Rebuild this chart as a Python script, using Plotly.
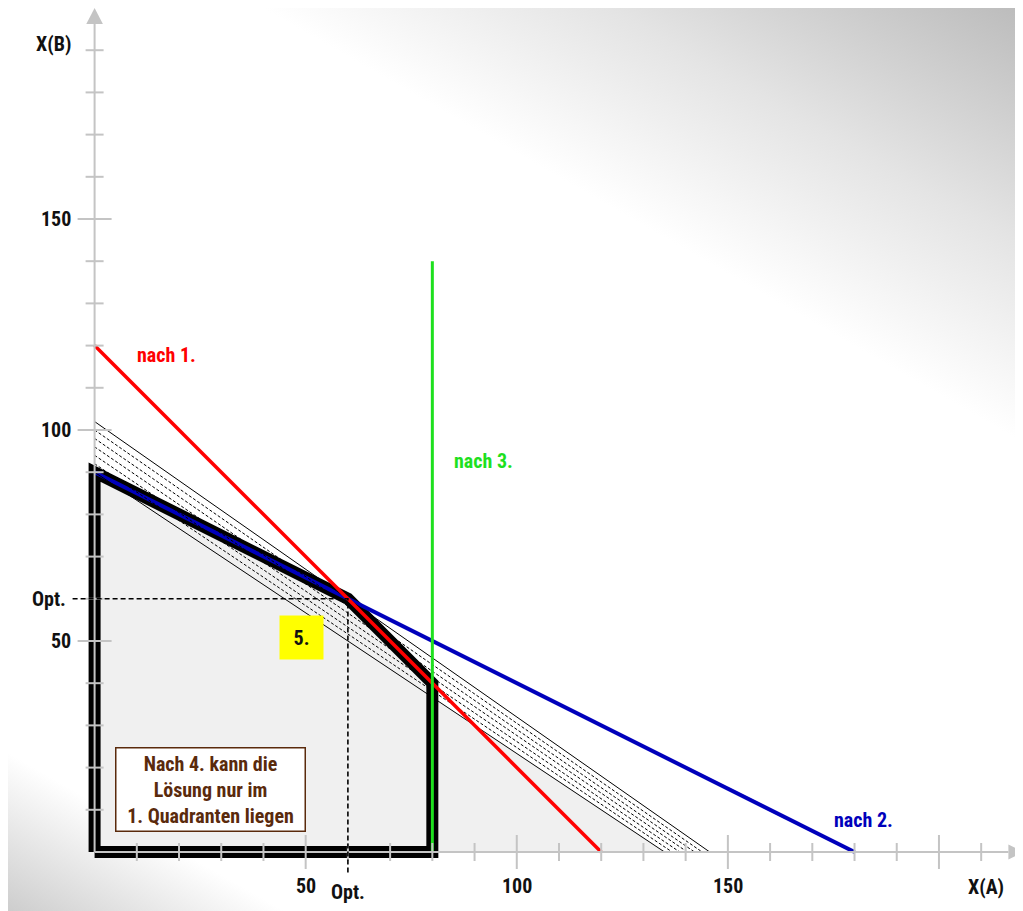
import base64
import plotly.graph_objects as go

# ---------------- data ----------------
# feasible region (after constraints 1-4)
feasible_x = [0, 0, 60, 80, 80, 0]
feasible_y = [0, 90, 60, 40, 0, 0]

# constraint lines
c1_x, c1_y = [0, 120], [120, 0]      # nach 1.
c2_x, c2_y = [0, 180], [90, 0]       # nach 2.
c3_x, c3_y = [80, 80], [0, 140]      # nach 3.

# iso-profit lines (intercepts on the axes)
iso_y0 = [90, 92, 94, 96, 98, 100, 102]
iso_x0 = [135.0, 136.8, 138.6, 140.4, 142.1, 143.9, 145.7]
iso_dash = ["solid", "3px,2px", "3px,2px", "3px,2px", "3px,2px", "3px,2px", "solid"]

# optimum
opt_x, opt_y = 60, 60

# axes
x_axis_end = 220
y_axis_end = 200
x_ticks = [10, 20, 30, 40, 50, 60, 70, 80, 90, 100, 110, 120, 130, 140, 150,
           160, 170, 180, 190, 200, 210]
x_major = [50, 100, 150, 200]
y_ticks = [10, 20, 30, 40, 50, 60, 70, 80, 90, 100, 110, 120, 130, 140, 150,
           160, 170, 180, 190]
y_major = [50, 100, 150]
x_tick_labels = ["50", "100", "150"]
x_tick_vals = [50, 100, 150]
y_tick_labels = ["50", "100", "150"]
y_tick_vals = [50, 100, 150]

# ---------------- styling ----------------
FONT = "Liberation Sans Narrow, Arial Narrow, Roboto Condensed, Liberation Sans, Arial, sans-serif"
AX = "#c4c4c4"
FILL = "#f0f0f0"
RED = "#ff0000"
BLUE = "#0000bb"
GREEN = "#1ee01e"
BROWN = "#5a2a0c"

XR = [-20.51, 221.8]
YR = [-15.88, 200.0]
PX = 1023 / (XR[1] - XR[0])   # px per x unit
PY = 911 / (YR[1] - YR[0])    # px per y unit

fig = go.Figure()

# background triangle below the lowest iso line
fig.add_trace(go.Scatter(x=[0, 0, iso_x0[0], 0], y=[0, iso_y0[0], 0, 0], mode="lines",
                         fill="toself", fillcolor=FILL, line=dict(width=0), hoverinfo="skip"))
# feasible region fill
fig.add_trace(go.Scatter(x=feasible_x, y=feasible_y, mode="lines", fill="toself",
                         fillcolor=FILL, line=dict(width=0), hoverinfo="skip"))
# thick outline
fig.add_trace(go.Scatter(x=feasible_x, y=feasible_y, mode="lines",
                         line=dict(color="black", width=12), hoverinfo="skip"))
# constraint 2 (blue)
fig.add_trace(go.Scatter(x=c2_x, y=c2_y, mode="lines", line=dict(color=BLUE, width=4),
                         hoverinfo="skip"))
# iso lines
for yi, xi, d in zip(iso_y0, iso_x0, iso_dash):
    fig.add_trace(go.Scatter(x=[0, xi], y=[yi, 0], mode="lines",
                             line=dict(color="black", width=1, dash=d), hoverinfo="skip"))
# constraint 1 (red)
fig.add_trace(go.Scatter(x=c1_x, y=c1_y, mode="lines", line=dict(color=RED, width=3.5),
                         hoverinfo="skip"))
# constraint 3 (green)
fig.add_trace(go.Scatter(x=c3_x, y=c3_y, mode="lines", line=dict(color=GREEN, width=3),
                         hoverinfo="skip"))

# axes
ah_len_x = 15 / PX
ah_half_x = 7.5 / PY
ah_len_y = 16 / PY
ah_half_y = 8.3 / PX
fig.add_trace(go.Scatter(x=[0, x_axis_end - ah_len_x], y=[0, 0], mode="lines",
                         line=dict(color=AX, width=2), hoverinfo="skip"))
fig.add_trace(go.Scatter(x=[0, 0], y=[0, y_axis_end - ah_len_y], mode="lines",
                         line=dict(color=AX, width=2), hoverinfo="skip"))
tx, ty = [], []
for t in x_ticks:
    h = (17 if t in x_major else 9) / PY
    tx += [t, t, None]
    ty += [-h, h, None]
for t in y_ticks:
    h = (17 if t in y_major else 9) / PX
    tx += [-h, h, None]
    ty += [t, t, None]
fig.add_trace(go.Scatter(x=tx, y=ty, mode="lines", line=dict(color=AX, width=2),
                         hoverinfo="skip"))
# arrow heads
fig.add_trace(go.Scatter(x=[x_axis_end - ah_len_x, x_axis_end, x_axis_end - ah_len_x, x_axis_end - ah_len_x],
                         y=[-ah_half_x, 0, ah_half_x, -ah_half_x], mode="lines", fill="toself",
                         fillcolor=AX, line=dict(width=0), hoverinfo="skip"))
fig.add_trace(go.Scatter(x=[-ah_half_y, 0, ah_half_y, -ah_half_y],
                         y=[y_axis_end - ah_len_y, y_axis_end, y_axis_end - ah_len_y, y_axis_end - ah_len_y],
                         mode="lines", fill="toself", fillcolor=AX, line=dict(width=0),
                         hoverinfo="skip"))

# optimum guide lines
fig.add_trace(go.Scatter(x=[-22 / PX, opt_x, opt_x], y=[opt_y, opt_y, -22 / PY], mode="lines",
                         line=dict(color="black", width=1.6, dash="5px,3px"), hoverinfo="skip"))

# ---------------- annotations ----------------
ann = []
def lab(x, y, text, color="#111111", xanchor="center", size=20, **kw):
    d = dict(x=x, y=y, xref="x", yref="y", text=text, showarrow=False, xanchor=xanchor,
             yanchor="middle", font=dict(family=FONT, size=size, color=color, weight="bold"))
    d.update(kw)
    ann.append(d)

for v, s in zip(y_tick_vals, y_tick_labels):
    lab(-22 / PX, v, s, xanchor="right")
lab(-27 / PX, opt_y, "Opt.", xanchor="right")
lab(-22 / PX, 191.5, "X(B)", xanchor="right")
for v, s in zip(x_tick_vals, x_tick_labels):
    lab(v, -34.5 / PY, s)
lab(opt_x, -40 / PY, "Opt.")
lab(211.1, -35 / PY, "X(A)")

lab(17.1, 117.8, "nach 1.", color=RED)
lab(182.2, 7.6, "nach 2.", color=BLUE)
lab(92.0, 92.7, "nach 3.", color=GREEN)
lab(49.05, 50.8, "5.", bgcolor="#ffff00", width=43, height=43, borderpad=0)
lab(27.45, 14.7, "Nach 4. kann die<br>Lösung nur im<br>1. Quadranten liegen", color=BROWN,
    bgcolor="#ffffff", bordercolor=BROWN, borderwidth=1.5, borderpad=0, width=188, height=82)

# ---------------- background gradient ----------------
svg = """<svg xmlns="http://www.w3.org/2000/svg" width="1023" height="911" viewBox="0 0 1023 911" preserveAspectRatio="none">
<defs><linearGradient id="g" gradientUnits="userSpaceOnUse" x1="-399.8" y1="677.7" x2="249.9" y2="-459.4">
<stop offset="0" stop-color="#cccccc"/>
<stop offset="0.107" stop-color="#ffffff"/>
<stop offset="0.697" stop-color="#ffffff"/>
<stop offset="0.828" stop-color="#e4e4e4"/>
<stop offset="1" stop-color="#b8b8b8"/>
</linearGradient></defs>
<rect x="0" y="0" width="1023" height="911" fill="url(#g)"/>
</svg>"""
src = "data:image/svg+xml;base64," + base64.b64encode(svg.encode()).decode()

fig.update_layout(
    width=1023, height=911,
    margin=dict(l=0, r=0, t=0, b=0),
    paper_bgcolor="white", plot_bgcolor="rgba(0,0,0,0)",
    showlegend=False,
    xaxis=dict(range=XR, visible=False, fixedrange=True),
    yaxis=dict(range=YR, visible=False, fixedrange=True),
    annotations=ann,
    images=[dict(source=src, xref="paper", yref="paper", x=0, y=1, sizex=1, sizey=1,
                 xanchor="left", yanchor="top", sizing="stretch", layer="below")],
)

fig.write_html("out.html")
